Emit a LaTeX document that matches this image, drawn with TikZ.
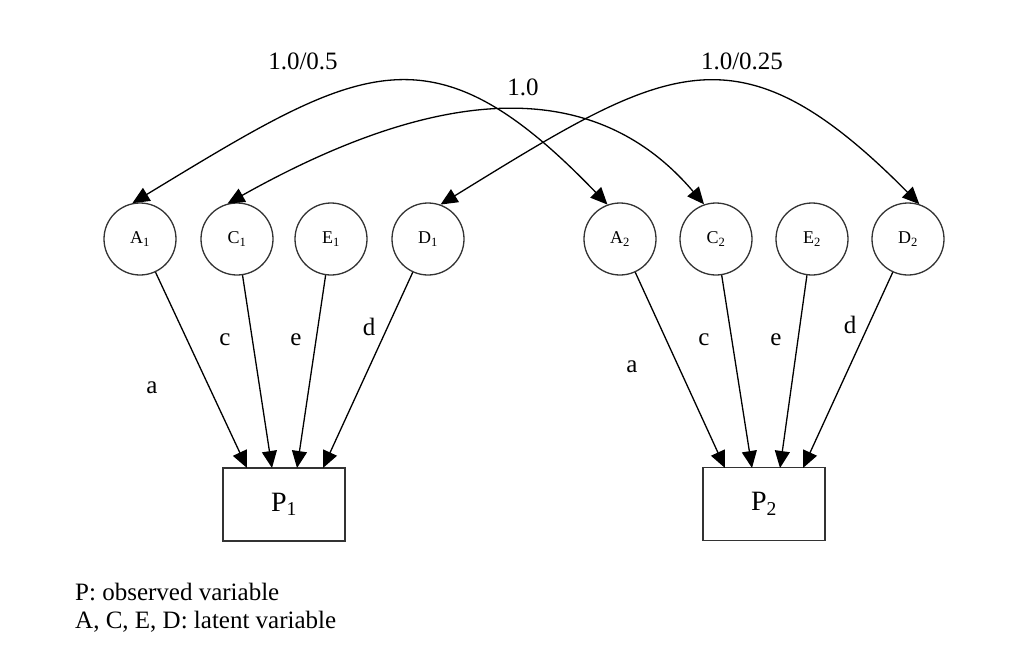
\documentclass[tikz,border=0pt]{standalone}
\usepackage{fontspec}
\setmainfont{Liberation Serif}
\usetikzlibrary{arrows.meta}
\begin{document}
\begin{tikzpicture}[x=1pt,y=-1pt,
  lat/.style={draw=black!80,line width=1.3pt,circle,minimum size=72pt,inner sep=0pt,font=\fontsize{18}{20}\selectfont},
  obs/.style={draw=black!80,line width=1.4pt,rectangle,minimum width=122pt,minimum height=73pt,inner sep=0pt,font=\fontsize{28}{30}\selectfont},
  path/.style={line width=1.3pt,-{Triangle[length=17pt,width=15pt]}},
  cov/.style={line width=1.3pt,{Triangle[length=17pt,width=15pt]}-{Triangle[length=17pt,width=15pt]}},
  lab/.style={inner sep=0pt,anchor=base,font=\fontsize{25}{28}\selectfont},
  leg/.style={inner sep=0pt,anchor=base west,font=\fontsize{25}{28}\selectfont}]
\useasboundingbox (0,0) rectangle (1029,654);
% latent variables
\node[lat] (A1) at (140,239) {A\textsubscript{1}};
\node[lat] (C1) at (237,239) {C\textsubscript{1}};
\node[lat] (E1) at (331,239) {E\textsubscript{1}};
\node[lat] (D1) at (428,239) {D\textsubscript{1}};
\node[lat] (A2) at (620,239) {A\textsubscript{2}};
\node[lat] (C2) at (716,239) {C\textsubscript{2}};
\node[lat] (E2) at (812,239) {E\textsubscript{2}};
\node[lat] (D2) at (908,239) {D\textsubscript{2}};
% observed variables
\node[obs] (P1) at (284,504.5) {P\textsubscript{1}};
\node[obs] (P2) at (764,504) {P\textsubscript{2}};
% arrow end points on the boxes
\coordinate (p1a) at (247,468);
\coordinate (p1c) at (272,468);
\coordinate (p1e) at (297,468);
\coordinate (p1d) at (323,468);
\coordinate (p2a) at (725,468);
\coordinate (p2c) at (752,468);
\coordinate (p2e) at (780,468);
\coordinate (p2d) at (803,468);
% paths
\draw[path] (A1) -- (p1a);
\draw[path] (C1) -- (p1c);
\draw[path] (E1) -- (p1e);
\draw[path] (D1) -- (p1d);
\draw[path] (A2) -- (p2a);
\draw[path] (C2) -- (p2c);
\draw[path] (E2) -- (p2e);
\draw[path] (D2) -- (p2d);
% path labels
\node[lab] (la1) at (152,393) {a};
\node[lab] (lc1) at (225,345) {c};
\node[lab] (le1) at (296,345) {e};
\node[lab] (ld1) at (369,335) {d};
\node[lab] (la2) at (632,372) {a};
\node[lab] (lc2) at (704,345) {c};
\node[lab] (le2) at (776,345) {e};
\node[lab] (ld2) at (850,333) {d};
% covariances
\draw[cov] (A1.102) .. controls (360,65) and (430,20) .. (A2.110);
\draw[cov] (C1.105) .. controls (430,90) and (590,70) .. (C2.109);
\draw[cov] (D1.70) .. controls (667,65) and (737,20) .. (D2.72);
\node[lab] (t1) at (303,69) {1.0/0.5};
\node[lab] (t2) at (523,95) {1.0};
\node[lab] (t3) at (742,69) {1.0/0.25};
% legend
\node[leg] (g1) at (75,600) {P: observed variable};
\node[leg] (g2) at (75,628) {A, C, E, D: latent variable};
\end{tikzpicture}
\end{document}
